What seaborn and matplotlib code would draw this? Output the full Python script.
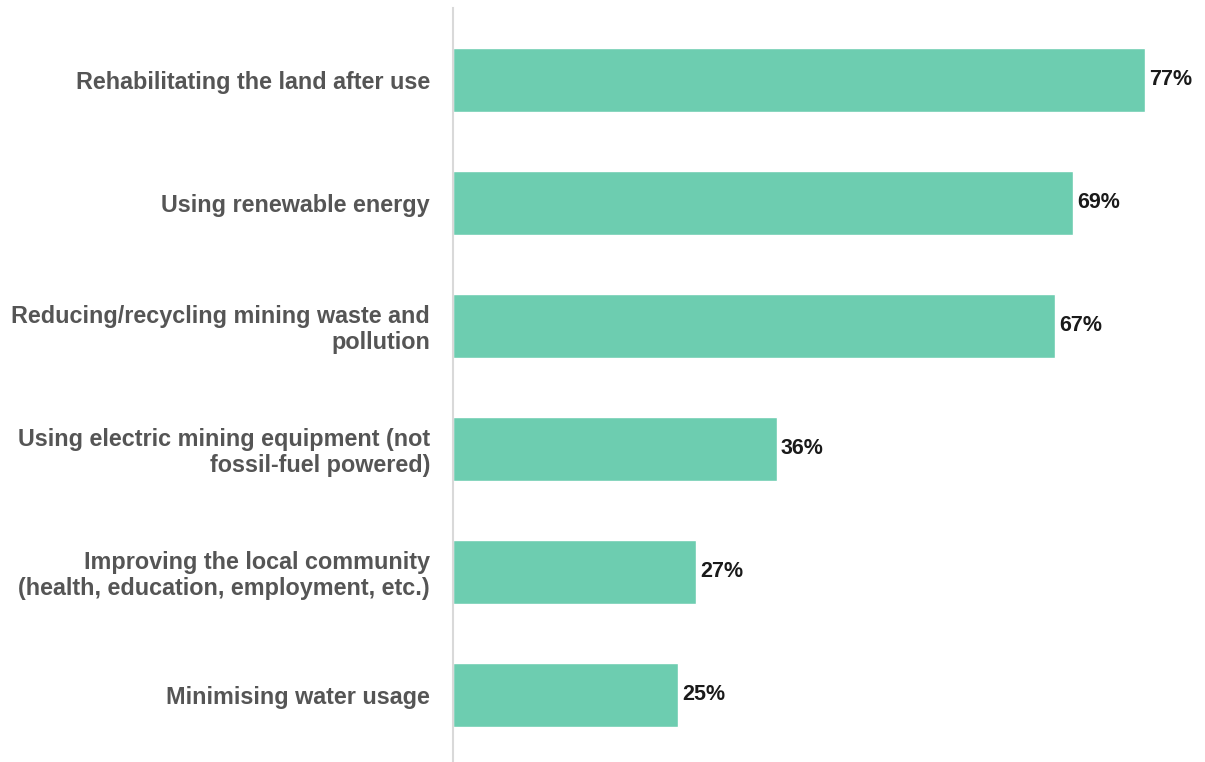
import matplotlib
matplotlib.use("Agg")
import matplotlib.pyplot as plt
import seaborn as sns
import pandas as pd

categories = [
    "Rehabilitating the land after use",
    "Using renewable energy",
    "Reducing/recycling mining waste and\npollution",
    "Using electric mining equipment (not\nfossil-fuel powered)",
    "Improving the local community\n(health, education, employment, etc.)",
    "Minimising water usage",
]
values = [77, 69, 67, 36, 27, 25]

df = pd.DataFrame({"category": categories, "value": values})

sns.set_style("white")
plt.rcParams["font.family"] = ["Liberation Sans", "DejaVu Sans"]

fig = plt.figure(figsize=(12.05, 7.62), dpi=100)
ax = fig.add_axes([453 / 1205, 0.0, 752 / 1205, 754 / 762])

sns.barplot(data=df, x="value", y="category", orient="h", color="#6dcdb0",
            saturation=1, width=0.52, ax=ax)

ax.set_xlim(0, 752 / 8.99)
ax.set_ylim(len(values) - 1 + 0.545, -0.585)

for i, v in enumerate(values):
    ax.text(v + 0.45, i, f"{v}%", va="center", ha="left", fontsize=15.5,
            fontweight="bold", color="#1a1a1a")

ax.set_xlabel("")
ax.set_ylabel("")
ax.set_xticks([])
ax.tick_params(axis="y", length=0, pad=16.5)
for lbl in ax.get_yticklabels():
    lbl.set_fontsize(16.8)
    lbl.set_fontweight("bold")
    lbl.set_color("#555555")
    lbl.set_linespacing(1.15)

for side in ["top", "right", "bottom"]:
    ax.spines[side].set_visible(False)
ax.spines["left"].set_color("#d9d9d9")
ax.spines["left"].set_linewidth(1.5)

fig.savefig("out.png", dpi=100, facecolor="white")
